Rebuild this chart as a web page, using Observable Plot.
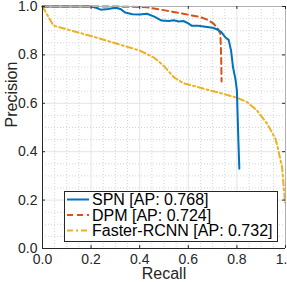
<!DOCTYPE html>
<html>
<head>
<meta charset="utf-8">
<script src="https://cdn.jsdelivr.net/npm/d3@7"></script>
<script src="https://cdn.jsdelivr.net/npm/@observablehq/plot@0.6"></script>
<style>
html,body{margin:0;padding:0;background:#fff;}
</style>
</head>
<body>
<div id="chart"></div>
<script>
const majorTicks = [0, 0.2, 0.4, 0.6, 0.8, 1];
const minorTicks = [0.05,0.1,0.15,0.25,0.3,0.35,0.45,0.5,0.55,0.65,0.7,0.75,0.85,0.9,0.95];

const spnRecall = [0,0.1,0.2,0.22,0.24,0.27,0.3,0.32,0.34,0.37,0.40,0.43,0.46,0.49,0.52,0.54,0.56,0.58,0.60,0.615,0.64,0.663,0.70,0.72,0.735,0.753,0.766,0.776,0.784,0.794,0.80,0.803,0.806,0.81];
const spnPrecision = [1,1,1,0.995,0.987,0.99,0.995,0.99,0.975,0.968,0.967,0.97,0.958,0.942,0.94,0.943,0.938,0.94,0.93,0.92,0.92,0.917,0.912,0.905,0.895,0.872,0.862,0.818,0.749,0.70,0.653,0.55,0.45,0.33];

const dpmRecall = [0,0.3,0.4,0.43,0.51,0.58,0.65,0.68,0.704,0.72,0.732,0.735,0.737];
const dpmPrecision = [1,1,0.998,0.997,0.983,0.97,0.956,0.945,0.929,0.91,0.887,0.80,0.69];

const frcnnRecall = [0,0.045,0.20,0.40,0.457,0.498,0.54,0.58,0.65,0.732,0.80,0.842,0.883,0.925,0.959,0.966,0.986,0.998];
const frcnnPrecision = [1,0.921,0.878,0.818,0.79,0.756,0.708,0.683,0.664,0.642,0.623,0.605,0.570,0.515,0.453,0.426,0.336,0.19];

const seriesNames = ["SPN [AP: 0.768]", "DPM [AP: 0.724]", "Faster-RCNN [AP: 0.732]"];
const colors = ["#0072BD", "#D95319", "#EDB120"];
const dashes = [null, "6,4", "6,3,2,3"];

const toRows = (rs, ps) => rs.map((r, i) => ({r, p: ps[i]}));
const spn = toRows(spnRecall, spnPrecision);
const dpm = toRows(dpmRecall, dpmPrecision);
const frcnn = toRows(frcnnRecall, frcnnPrecision);

const axisColor = "#262626";
const tk = 0.012;
const font = "'Liberation Sans', Arial, Helvetica, sans-serif";

const plot = Plot.plot({
  width: 287,
  height: 282,
  marginLeft: 42,
  marginRight: 2,
  marginTop: 6,
  marginBottom: 34,
  style: {fontFamily: font, fontSize: "14px", color: axisColor, background: "white", overflow: "visible"},
  x: {domain: [0, 1]},
  y: {domain: [0, 1]},
  marks: [
    Plot.ruleX(minorTicks, {stroke: "#d4d4d4", strokeDasharray: "1,2"}),
    Plot.ruleY(minorTicks, {stroke: "#d4d4d4", strokeDasharray: "1,2"}),
    Plot.ruleX(majorTicks, {stroke: "#e4e4e4"}),
    Plot.ruleY(majorTicks, {stroke: "#e4e4e4"}),
    Plot.line(frcnn, {x: "r", y: "p", stroke: colors[2], strokeWidth: 2, strokeDasharray: dashes[2]}),
    Plot.line(dpm, {x: "r", y: "p", stroke: colors[1], strokeWidth: 2, strokeDasharray: dashes[1]}),
    Plot.line(spn, {x: "r", y: "p", stroke: colors[0], strokeWidth: 2}),
    Plot.ruleY([1], {stroke: "#b0b0b0"}),
    Plot.ruleX([1], {stroke: "#b0b0b0"}),
    Plot.ruleX(majorTicks, {y1: 0, y2: tk, stroke: axisColor}),
    Plot.ruleX(majorTicks, {y1: 1 - tk, y2: 1, stroke: axisColor}),
    Plot.ruleY(majorTicks, {x1: 0, x2: tk, stroke: axisColor}),
    Plot.ruleY(majorTicks, {x1: 1 - tk, x2: 1, stroke: axisColor}),
    Plot.ruleX([0], {stroke: axisColor}),
    Plot.ruleY([0], {stroke: axisColor}),
    Plot.axisX(majorTicks, {tickSize: 0, tickPadding: 6, fontSize: 14, fill: axisColor, label: null}),
    Plot.axisY(majorTicks, {tickSize: 0, tickPadding: 5, fontSize: 14, fill: axisColor, label: null}),
    Plot.text(["Recall"], {frameAnchor: "bottom", dy: 30, fontSize: 16, fill: axisColor}),
    Plot.text(["Precision"], {frameAnchor: "left", dx: -31, rotate: -90, fontSize: 16, fill: axisColor})
  ]
});

// Legend
const svg = d3.select(plot);
const lg = svg.append("g").attr("text-anchor", "start");
const bx = 64, by = 191, bw = 213, bh = 50, rowH = 15.5, firstRow = 199.5;
lg.append("rect").attr("x", bx + 0.5).attr("y", by + 0.5).attr("width", bw).attr("height", bh)
  .attr("fill", "white").attr("stroke", axisColor).attr("stroke-width", 1);
seriesNames.forEach((name, i) => {
  const cy = firstRow + i * rowH;
  const ln = lg.append("line").attr("x1", 67).attr("x2", 89).attr("y1", cy).attr("y2", cy)
    .attr("stroke", colors[i]).attr("stroke-width", 2);
  if (dashes[i]) ln.attr("stroke-dasharray", dashes[i]);
  lg.append("text").attr("x", 92).attr("y", cy).attr("dy", "0.36em")
    .attr("text-anchor", "start")
    .attr("font-size", 16).attr("fill", "#000")
    .attr("font-family", font)
    .text(name);
});

document.getElementById("chart").appendChild(plot);
</script>
</body>
</html>
